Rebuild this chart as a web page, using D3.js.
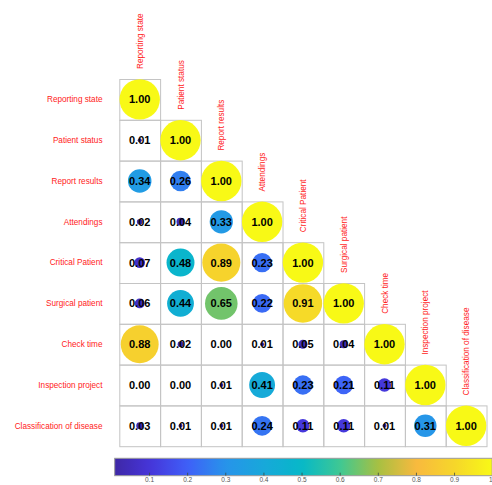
<!DOCTYPE html>
<html>
<head>
<meta charset="utf-8">
<script src="https://cdn.jsdelivr.net/npm/d3@7"></script>
<style>
  html, body { margin: 0; padding: 0; background: #fff; }
  svg { display: block; font-family: "Liberation Sans", Arial, Helvetica, sans-serif; }
</style>
</head>
<body>
<svg id="chart" width="492" height="485"></svg>
<script>
// Variable names (rows top to bottom, columns left to right)
const variables = [
  "Reporting state", "Patient status", "Report results", "Attendings",
  "Critical Patient", "Surgical patient", "Check time",
  "Inspection project", "Classification of disease"
];

// Lower-triangle correlation coefficients, one array per row
const rowReportingState   = [1.00];
const rowPatientStatus    = [0.01, 1.00];
const rowReportResults    = [0.34, 0.26, 1.00];
const rowAttendings       = [0.02, 0.04, 0.33, 1.00];
const rowCriticalPatient  = [0.07, 0.48, 0.89, 0.23, 1.00];
const rowSurgicalPatient  = [0.06, 0.44, 0.65, 0.22, 0.91, 1.00];
const rowCheckTime        = [0.88, 0.02, 0.00, 0.01, 0.05, 0.04, 1.00];
const rowInspection       = [0.00, 0.00, 0.01, 0.41, 0.23, 0.21, 0.11, 1.00];
const rowClassification   = [0.03, 0.01, 0.01, 0.24, 0.11, 0.11, 0.01, 0.31, 1.00];

const matrixRows = [
  rowReportingState, rowPatientStatus, rowReportResults, rowAttendings,
  rowCriticalPatient, rowSurgicalPatient, rowCheckTime, rowInspection,
  rowClassification
];

// Colour bar range and tick labels
const colorRange = [0.01, 1];
const colorTicks = [0.1, 0.2, 0.3, 0.4, 0.5, 0.6, 0.7, 0.8, 0.9, 1];

// Parula-like colour map stops
const cmapStops  = [0.0, 0.1, 0.2, 0.3, 0.4, 0.5, 0.6, 0.7, 0.8, 0.9, 1.0];
const cmapColors = ["#3d27a0", "#4634d8", "#3f5ff8", "#2794ea", "#18a8da",
                    "#06b8c8", "#3ec894", "#a6c042", "#f8b93e", "#f6d62a", "#f8f916"];

const svg = d3.select("#chart");
const n = variables.length;

const gridLeft = 119.3, gridTop = 79, cell = 40.8;
const x = d3.scaleBand().domain(d3.range(n)).range([gridLeft, gridLeft + n * cell]).padding(0);
const y = d3.scaleBand().domain(d3.range(n)).range([gridTop, gridTop + n * cell]).padding(0);

const color = d3.scaleLinear().domain(cmapStops).range(cmapColors)
  .interpolate(d3.interpolateRgb).clamp(true);
const radius = d3.scaleSqrt().domain([0, 1]).range([0, 20.2]);

const cells = [];
matrixRows.forEach((row, i) => row.forEach((v, j) => cells.push({ i, j, v })));

// grid cells
svg.append("g").selectAll("rect").data(cells).join("rect")
  .attr("x", d => x(d.j) + 0.5)
  .attr("y", d => y(d.i) + 0.5)
  .attr("width", x.bandwidth())
  .attr("height", y.bandwidth())
  .attr("fill", "none")
  .attr("stroke", "#c4c4c4")
  .attr("stroke-width", 1);

// circles sized by coefficient
svg.append("g").selectAll("circle").data(cells.filter(d => d.v > 0)).join("circle")
  .attr("cx", d => x(d.j) + x.bandwidth() / 2)
  .attr("cy", d => y(d.i) + y.bandwidth() / 2)
  .attr("r", d => radius(d.v))
  .attr("fill", d => color(d.v));

// value labels
svg.append("g").selectAll("text").data(cells).join("text")
  .attr("x", d => x(d.j) + x.bandwidth() / 2)
  .attr("y", d => y(d.i) + y.bandwidth() / 2)
  .attr("dy", "0.36em")
  .attr("text-anchor", "middle")
  .attr("font-size", 11)
  .attr("font-weight", "bold")
  .attr("fill", "#000")
  .text(d => d.v.toFixed(2));

// row labels
svg.append("g").selectAll("text").data(variables).join("text")
  .attr("x", gridLeft - 16.8)
  .attr("y", (d, i) => y(i) + y.bandwidth() / 2)
  .attr("dy", "0.35em")
  .attr("text-anchor", "end")
  .attr("font-size", 8.2)
  .attr("fill", "#ff1a1a")
  .text(d => d);

// column labels, rotated, above the diagonal cell
svg.append("g").selectAll("text").data(variables).join("text")
  .attr("transform", (d, i) =>
    `translate(${x(i) + x.bandwidth() / 2 + 3}, ${y(i) - 10}) rotate(-90)`)
  .attr("text-anchor", "start")
  .attr("font-size", 8.2)
  .attr("fill", "#ff1a1a")
  .text(d => d);

// colour bar
const cbX = d3.scaleLinear().domain(colorRange).range([114.7, 492.2]);
const cbTop = 458.3, cbHeight = 17.4;
const defs = svg.append("defs");
const grad = defs.append("linearGradient").attr("id", "cbar")
  .attr("gradientUnits", "userSpaceOnUse")
  .attr("x1", cbX(colorRange[0])).attr("x2", cbX(colorRange[1]))
  .attr("y1", 0).attr("y2", 0);
d3.range(0, 1.0001, 0.02).forEach(t => {
  const v = colorRange[0] + t * (colorRange[1] - colorRange[0]);
  grad.append("stop").attr("offset", t).attr("stop-color", color(v));
});
svg.append("rect")
  .attr("x", cbX(colorRange[0])).attr("y", cbTop)
  .attr("width", cbX(colorRange[1]) - cbX(colorRange[0]))
  .attr("height", cbHeight)
  .attr("fill", "url(#cbar)")
  .attr("stroke", "#9a9a9a").attr("stroke-width", 1);

const cbAxis = d3.axisBottom(cbX).tickValues(colorTicks)
  .tickFormat(d => d === 1 ? "1" : d.toFixed(1))
  .tickSizeInner(-3).tickSizeOuter(0).tickPadding(1.5);
const axisG = svg.append("g")
  .attr("transform", `translate(0, ${cbTop + cbHeight})`)
  .call(cbAxis);
axisG.select(".domain").remove();
axisG.selectAll(".tick line").attr("stroke", "#3a4a40").attr("stroke-opacity", 0.8);
axisG.selectAll(".tick text")
  .attr("font-size", 6.5)
  .attr("fill", "#555")
  .attr("dy", "0.71em")
  .attr("text-anchor", d => d === 1 ? "end" : "middle")
  .attr("font-family", "\"Liberation Sans\", Arial, sans-serif");
</script>
</body>
</html>
